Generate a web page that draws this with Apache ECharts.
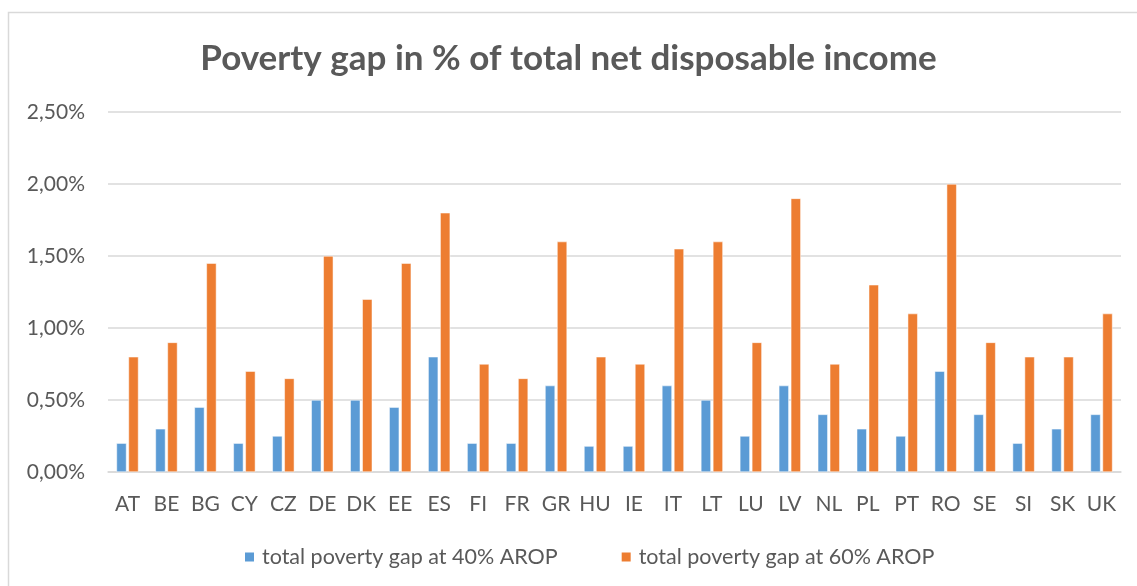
<!DOCTYPE html>
<html>
<head>
<meta charset="utf-8">
<script src="https://cdn.jsdelivr.net/npm/echarts@6/dist/echarts.min.js"></script>
<style>
  html, body { margin: 0; padding: 0; background: #fff; }
  #chart { width: 1137px; height: 586px; }
</style>
</head>
<body>
<div id="chart"></div>
<script>
// Country codes along the x axis
const countries = ['AT','BE','BG','CY','CZ','DE','DK','EE','ES','FI','FR','GR','HU','IE','IT','LT','LU','LV','NL','PL','PT','RO','SE','SI','SK','UK'];

// Poverty gap, in % of total net disposable income
const gap40 = [0.20,0.30,0.45,0.20,0.25,0.50,0.50,0.45,0.80,0.20,0.20,0.60,0.18,0.18,0.60,0.50,0.25,0.60,0.40,0.30,0.25,0.70,0.40,0.20,0.30,0.40];
const gap60 = [0.80,0.90,1.45,0.70,0.65,1.50,1.20,1.45,1.80,0.75,0.65,1.60,0.80,0.75,1.55,1.60,0.90,1.90,0.75,1.30,1.10,2.00,0.90,0.80,0.80,1.10];

const seriesNames = ['total poverty gap at 40% AROP', 'total poverty gap at 60% AROP'];
const titleText = 'Poverty gap in % of total net disposable income';

const textColor = '#595959';
const font = 'Lato, "Open Sans", sans-serif';

const chart = echarts.init(document.getElementById('chart'));
chart.setOption({
  animation: false,
  backgroundColor: '#ffffff',
  graphic: [{
    type: 'rect',
    shape: { x: 8.5, y: 12.5, width: 1300, height: 800 },
    style: { fill: 'none', stroke: '#d9d9d9', lineWidth: 1.5 },
    silent: true
  }],
  title: {
    text: titleText,
    left: 'center',
    top: 36,
    textStyle: { color: textColor, fontFamily: font, fontWeight: 'bold', fontSize: 35 }
  },
  legend: {
    bottom: 13,
    left: 238,
    itemWidth: 11,
    itemHeight: 11,
    itemGap: 62,
    icon: 'rect',
    textStyle: { color: textColor, fontFamily: font, fontSize: 21.5, padding: [0, 0, 0, 2] },
    data: seriesNames
  },
  grid: { left: 108, right: 16, top: 112, bottom: 114 },
  xAxis: {
    type: 'category',
    data: countries,
    axisLine: { lineStyle: { color: '#d9d9d9', width: 1.5 } },
    axisTick: { show: false },
    axisLabel: { color: textColor, fontFamily: font, fontSize: 21, margin: 22, interval: 0 }
  },
  yAxis: {
    type: 'value',
    min: 0,
    max: 2.5,
    interval: 0.5,
    axisLine: { show: false },
    axisTick: { show: false },
    splitLine: { lineStyle: { color: '#d9d9d9', width: 1.5 } },
    axisLabel: {
      color: textColor, fontFamily: font, fontSize: 21, margin: 23,
      formatter: v => v.toFixed(2).replace('.', ',') + '%'
    }
  },
  series: [
    {
      name: seriesNames[0],
      type: 'bar',
      data: gap40,
      barWidth: 10,
      barGap: '20%',
      itemStyle: { color: '#5b9bd5', borderColor: '#ffffff', borderWidth: 0.5 }
    },
    {
      name: seriesNames[1],
      type: 'bar',
      data: gap60,
      barWidth: 10,
      barGap: '20%',
      itemStyle: { color: '#ed7d31', borderColor: '#ffffff', borderWidth: 0.5 }
    }
  ]
});
</script>
</body>
</html>
